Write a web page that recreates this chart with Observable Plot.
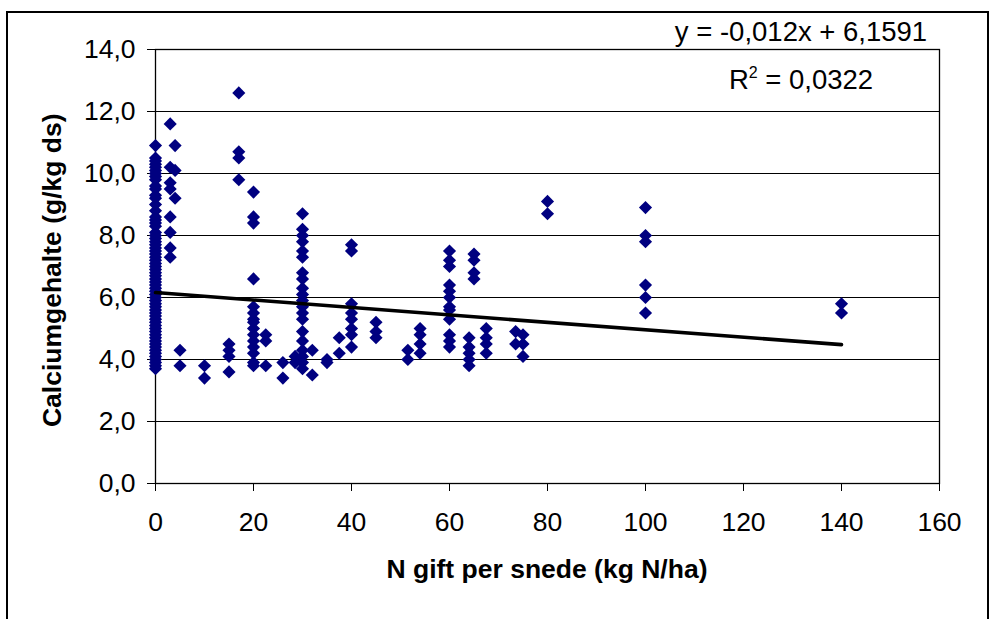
<!DOCTYPE html>
<html><head><meta charset="utf-8">
<script src="https://cdn.jsdelivr.net/npm/d3@7"></script>
<script src="https://cdn.jsdelivr.net/npm/@observablehq/plot@0.6"></script>
<style>
html,body{margin:0;padding:0;background:#fff;overflow:hidden;width:991px;height:619px;}
#wrap{position:relative;width:991px;height:619px;font-family:"Liberation Sans",Arial,sans-serif;color:#000;overflow:hidden;}
#border{position:absolute;left:6px;top:11px;width:983px;height:700px;border:2px solid #000;box-sizing:border-box;}
#chart{position:absolute;left:0;top:0;}
.t{position:absolute;white-space:nowrap;line-height:1;}
.eq{font-size:27.5px;left:601px;width:400px;text-align:center;}
.eq sup{font-size:16px;vertical-align:0.7em;line-height:0;}
#xtitle{font-size:26.5px;font-weight:bold;left:247px;width:600px;text-align:center;top:556px;}
#ytitle{font-size:26.5px;font-weight:bold;left:-248px;width:600px;text-align:center;top:257px;transform:rotate(-90deg);}
</style>
</head><body>
<div id="wrap">
  <div id="border"></div>
  <div id="chart"></div>
  <div class="t eq" style="top:18px">y = -0,012x + 6,1591</div>
  <div class="t eq" style="top:66px">R<sup>2</sup> = 0,0322</div>
  <div class="t" id="xtitle">N gift per snede (kg N/ha)</div>
  <div class="t" id="ytitle">Calciumgehalte (g/kg ds)</div>
</div>
<script>
// N gift per snede (kg N/ha) — x position of each group
const nGift = [0, 3, 4, 5, 10, 15, 17, 20, 22.5, 26, 28.5, 30, 32, 35, 37.5, 40, 45, 51.5, 54, 60, 64, 65, 67.5, 73.5, 75, 80, 100, 140];
// Calciumgehalte (g/kg ds) per group
const calcium = [
  [10.9, 10.5, 10.4, 10.3, 10.2, 10.1, 10.0, 9.9, 9.8, 9.6, 9.5, 9.3, 9.2, 9.0, 8.8, 8.6, 8.5, 8.4, 8.3, 8.1, 8.0, 7.9, 7.8, 7.7, 7.6, 7.5, 7.4, 7.3, 7.2, 7.1, 7.0, 6.9, 6.8, 6.7, 6.6, 6.5, 6.4, 6.3, 6.2, 6.1, 6.0, 5.9, 5.8, 5.7, 5.6, 5.5, 5.4, 5.3, 5.2, 5.1, 5.0, 4.9, 4.8, 4.7, 4.6, 4.5, 4.4, 4.3, 4.2, 4.1, 4.0, 3.9, 3.8, 3.7],
  [11.6, 10.2, 9.7, 9.5, 8.6, 8.1, 7.6, 7.3],
  [10.9, 10.1, 9.2],
  [4.3, 3.8],
  [3.8, 3.4],
  [4.5, 4.3, 4.1, 3.6],
  [12.6, 10.7, 10.5, 9.8],
  [9.4, 8.6, 8.4, 6.6, 5.7, 5.5, 5.3, 5.2, 5.0, 4.8, 4.6, 4.4, 4.2, 3.9, 3.8],
  [4.8, 4.6, 3.8],
  [3.9, 3.4],
  [4.1, 3.9],
  [8.7, 8.2, 8.0, 7.8, 7.5, 7.3, 6.8, 6.6, 6.3, 6.1, 5.9, 5.7, 5.5, 5.3, 4.9, 4.6, 4.3, 4.1, 3.9, 3.7],
  [4.3, 3.5],
  [4.0, 3.9],
  [4.7, 4.2],
  [7.7, 7.5, 5.8, 5.5, 5.3, 5.0, 4.8, 4.4],
  [5.2, 4.9, 4.7],
  [4.3, 4.0],
  [5.0, 4.8, 4.5, 4.2],
  [7.5, 7.2, 7.0, 6.4, 6.2, 6.0, 5.7, 5.6, 5.3, 4.8, 4.6, 4.4],
  [4.7, 4.4, 4.2, 4.0, 3.8],
  [7.4, 7.2, 6.8, 6.6],
  [5.0, 4.7, 4.5, 4.2],
  [4.9, 4.5],
  [4.8, 4.5, 4.1],
  [9.1, 8.7],
  [8.9, 8.0, 7.8, 6.4, 6.0, 5.5],
  [5.8, 5.5]
];
// Linear trend line (as printed on the chart)
const trendSlope = -0.012;
const trendIntercept = 6.1591;
const trendX = [0, 140];
// Tick values
const xTicks = [0, 20, 40, 60, 80, 100, 120, 140, 160];
const yTicks = [0, 2, 4, 6, 8, 10, 12, 14];

const points = nGift.flatMap((x, i) => calcium[i].map(y => ({x, y})));
const trend = trendX.map(x => ({x, y: trendSlope * x + trendIntercept}));
const fmt = d => d.toFixed(1).replace(".", ",");

const chart = Plot.plot({
  width: 991,
  height: 619,
  marginLeft: 155,
  marginRight: 52,
  marginTop: 49,
  marginBottom: 136,
  style: {fontFamily: "'Liberation Sans', Arial, sans-serif", fontSize: "26.5px", color: "#000", background: "transparent", overflow: "visible"},
  x: {domain: [0, 160], ticks: xTicks, tickSize: 8, tickPadding: 21, label: null},
  y: {domain: [0, 14], ticks: yTicks, tickSize: 8, tickPadding: 12, tickFormat: fmt, label: null},
  marks: [
    Plot.ruleY(yTicks, {stroke: "#000", strokeWidth: 1}),
    Plot.frame({stroke: "#000", strokeWidth: 1.3}),
    Plot.dot(points, {x: "x", y: "y", symbol: "diamond2", r: 5.9, fill: "#000080", stroke: "none"}),
    Plot.line(trend, {x: "x", y: "y", stroke: "#000", strokeWidth: 3.6})
  ]
});
document.getElementById("chart").appendChild(chart);
</script>
</body></html>
